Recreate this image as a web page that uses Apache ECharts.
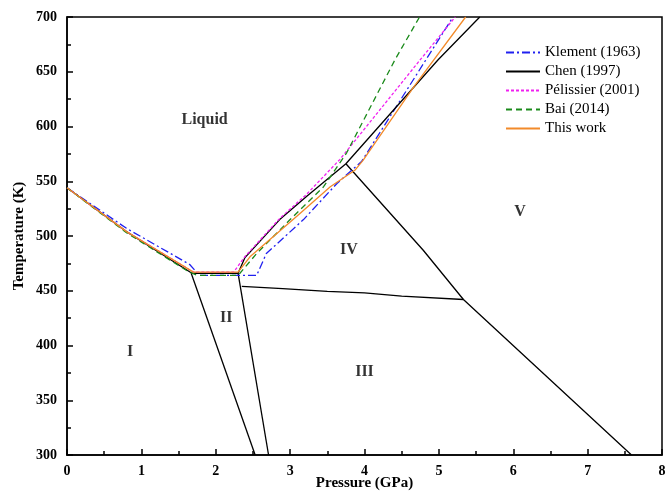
<!DOCTYPE html>
<html>
<head>
<meta charset="UTF-8">
<title>phase diagram</title>
<script type="text/javascript" src="https://cdn.jsdelivr.net/npm/echarts@6/dist/echarts.min.js"></script>
<style>
  html, body { margin: 0; padding: 0; background: #fff; }
  #container { width: 666px; height: 494px; }
</style>
</head>
<body>
<div id="container"></div>
<script type="text/javascript">
// melting curves, [pressure GPa, temperature K]
var klement = [[0, 544], [0.8, 507], [1.65, 474], [1.78, 464], [2.55, 464], [2.68, 484], [3.18, 515], [3.63, 548], [3.96, 568], [5.19, 700]];
var chen = [[0, 544], [0.8, 504], [1.68, 466], [2.3, 466], [2.39, 480], [2.86, 515], [3.22, 536], [3.54, 554], [3.75, 566], [4.99, 661], [5.55, 700]];
var pelissier = [[0, 544], [0.8, 504], [1.7, 467], [2.24, 467], [2.39, 481], [2.86, 516], [3.22, 538], [3.67, 570], [4.75, 661], [5.22, 700]];
var bai = [[0, 544], [0.8, 503], [1.62, 468], [1.75, 464], [2.3, 464], [2.55, 484], [3.0, 515], [3.45, 545], [3.76, 576], [4.41, 661], [4.74, 700]];
var thisWork = [[0, 544], [0.8, 504], [1.7, 467], [2.3, 467], [2.46, 481], [3.09, 518], [3.54, 545], [3.87, 560], [3.98, 569], [4.66, 636], [5.36, 700]];

// solid-solid phase boundaries
var bound12 = [[1.67, 466], [2.53, 300]];
var bound23 = [[2.3, 466], [2.71, 300]];
var bound34 = [[2.35, 454], [2.9, 452], [3.5, 449.5], [4.0, 448], [4.5, 445], [5.33, 442]];
var bound5 = [[3.75, 566], [4.79, 487], [5.33, 442], [7.59, 300]];

// region labels [pressure, temperature, text]
var regions = [[1.85, 606, 'Liquid'], [0.85, 394, 'I'], [2.14, 425, 'II'], [4.0, 376, 'III'], [3.79, 487, 'IV'], [6.09, 522, 'V']];

var names = ['Klement (1963)', 'Chen (1997)', 'Pélissier (2001)', 'Bai (2014)', 'This work'];

var serif = '"Liberation Serif", "DejaVu Serif", serif';

function curve(name, data, color, type) {
    return {
        name: name,
        type: 'line',
        data: data,
        symbol: 'none',
        silent: true,
        lineStyle: {color: color, width: 1.3, type: type},
        itemStyle: {color: color}
    };
}
function boundary(data) {
    return {
        type: 'line',
        data: data,
        symbol: 'none',
        silent: true,
        lineStyle: {color: '#000', width: 1.3}
    };
}

var myChart = echarts.init(document.getElementById('container'), null, {renderer: 'canvas'});
var option = {
    animation: false,
    backgroundColor: '#fff',
    grid: {
        left: 67, right: 4, top: 17, bottom: 39,
        outerBoundsMode: 'none', containLabel: false,
        show: true, borderColor: '#000', borderWidth: 1.5, backgroundColor: 'transparent'
    },
    legend: {
        data: names,
        orient: 'vertical',
        left: 500,
        top: 40,
        itemWidth: 34,
        itemHeight: 10,
        itemGap: 4,
        itemStyle: {opacity: 0},
        textStyle: {fontFamily: serif, fontSize: 15, color: '#000'}
    },
    xAxis: {
        type: 'value', min: 0, max: 8, interval: 1,
        name: 'Pressure (GPa)', nameLocation: 'middle', nameGap: 21, nameMoveOverlap: false,
        nameTextStyle: {fontFamily: serif, fontWeight: 'bold', fontSize: 15, color: '#000'},
        axisLine: {lineStyle: {color: '#000', width: 1.5}},
        axisTick: {inside: true, length: 6, lineStyle: {color: '#000', width: 1.5}},
        minorTick: {show: true, splitNumber: 2, length: 4, lineStyle: {color: '#000', width: 1.5}},
        axisLabel: {fontFamily: serif, fontWeight: 'bold', fontSize: 14, color: '#000', margin: 9},
        splitLine: {show: false}
    },
    yAxis: {
        type: 'value', min: 300, max: 700, interval: 50,
        name: 'Temperature (K)', nameLocation: 'middle', nameGap: 40, nameRotate: 90, nameMoveOverlap: false,
        nameTextStyle: {fontFamily: serif, fontWeight: 'bold', fontSize: 15, color: '#000'},
        axisLine: {lineStyle: {color: '#000', width: 1.5}},
        axisTick: {inside: true, length: 6, lineStyle: {color: '#000', width: 1.5}},
        minorTick: {show: true, splitNumber: 2, length: 4, lineStyle: {color: '#000', width: 1.5}},
        axisLabel: {fontFamily: serif, fontWeight: 'bold', fontSize: 14, color: '#000', margin: 10},
        splitLine: {show: false}
    },
    series: [
        boundary(bound12),
        boundary(bound23),
        boundary(bound34),
        boundary(bound5),
        curve(names[0], klement, '#2020f0', [8, 3, 2, 3]),
        curve(names[1], chen, '#000000', 'solid'),
        curve(names[2], pelissier, '#f020f0', [3, 2]),
        curve(names[3], bai, '#1a8a1a', [6, 4]),
        curve(names[4], thisWork, '#f28a2a', 'solid'),
        {
            type: 'scatter',
            silent: true,
            symbolSize: 0,
            data: regions.map(function (r) { return {value: [r[0], r[1]], name: r[2]}; }),
            label: {
                show: true, position: 'inside',
                formatter: function (p) { return p.name; },
                fontFamily: serif, fontWeight: 'bold', fontSize: 16, color: '#000'
            }
        }
    ]
};
myChart.setOption(option);
</script>
</body>
</html>
